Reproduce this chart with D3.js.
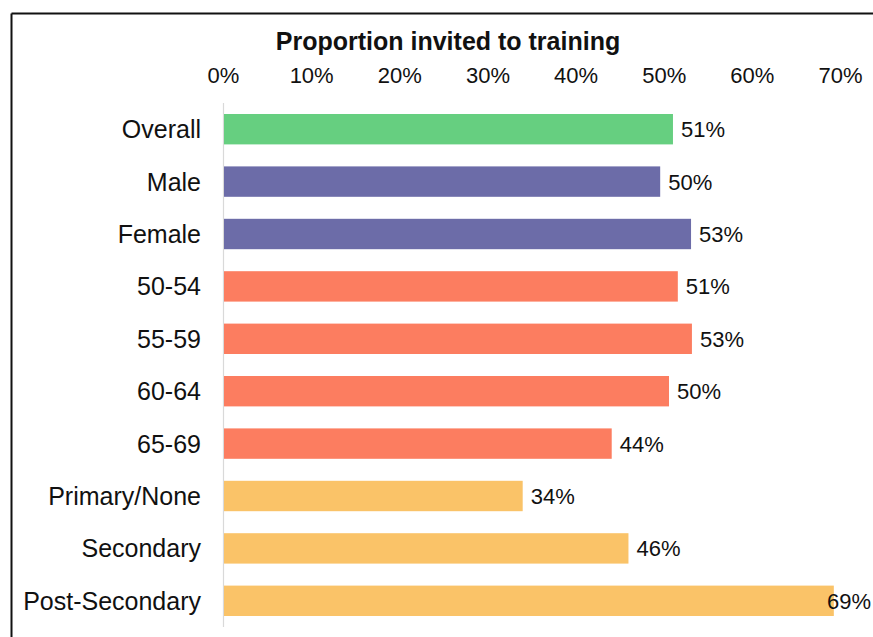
<!DOCTYPE html>
<html>
<head>
<meta charset="utf-8">
<script src="https://cdn.jsdelivr.net/npm/d3@7"></script>
<style>
  body { margin: 0; background: #fff; }
  svg text { font-family: "Liberation Sans", Arial, sans-serif; fill: #111; }
</style>
</head>
<body>
<svg id="chart" width="873" height="637"></svg>
<script>
// chart data
const categories = ["Overall", "Male", "Female", "50-54", "55-59", "60-64", "65-69", "Primary/None", "Secondary", "Post-Secondary"];
const values = [51.05, 49.6, 53.1, 51.6, 53.2, 50.6, 44.1, 34.0, 46.0, 69.3];
const valueLabels = ["51%", "50%", "53%", "51%", "53%", "50%", "44%", "34%", "46%", "69%"];
const groups = ["all", "sex", "sex", "age", "age", "age", "age", "edu", "edu", "edu"];
const tickValues = [0, 10, 20, 30, 40, 50, 60, 70];

const colors = { all: "#66cf80", sex: "#6c6ca8", age: "#fc7d60", edu: "#fac368" };

const svg = d3.select("#chart");

// frame (top and left edges visible)
svg.append("line").attr("x1", 11.5).attr("x2", 873).attr("y1", 13.5).attr("y2", 13.5)
  .attr("stroke", "#111").attr("stroke-width", 2);
svg.append("line").attr("x1", 11.5).attr("x2", 11.5).attr("y1", 13.5).attr("y2", 637)
  .attr("stroke", "#111").attr("stroke-width", 2);

const x = d3.scaleLinear().domain([0, 70]).range([223, 840]);
const y = d3.scaleBand().domain(categories).range([103, 627]).paddingInner(0.42).paddingOuter(0.21);

// title
svg.append("text")
  .attr("x", 448).attr("y", 50)
  .attr("text-anchor", "middle")
  .style("font-size", "25px").style("font-weight", "bold")
  .text("Proportion invited to training");

// top axis
const xAxis = svg.append("g")
  .attr("transform", "translate(0,83)")
  .call(d3.axisTop(x).tickValues(tickValues).tickFormat(d => d + "%").tickSize(0).tickPadding(0));
xAxis.select(".domain").remove();
xAxis.selectAll("text").style("font-size", "22px").attr("fill", "#111");

// vertical axis line
svg.append("line")
  .attr("x1", x(0) + 0.5).attr("x2", x(0) + 0.5)
  .attr("y1", 103).attr("y2", 627)
  .attr("stroke", "#d9d9d9").attr("stroke-width", 1.2);

// category labels
svg.append("g").selectAll("text")
  .data(categories)
  .enter()
  .append("text")
  .attr("x", 201)
  .attr("y", d => y(d) + y.bandwidth() / 2)
  .attr("dy", "0.36em")
  .attr("text-anchor", "end")
  .style("font-size", "25px")
  .text(d => d);

// bars
svg.append("g").selectAll("rect")
  .data(values)
  .enter()
  .append("rect")
  .attr("x", x(0) + 1)
  .attr("y", (d, i) => y(categories[i]))
  .attr("width", d => x(d) - x(0) - 1)
  .attr("height", y.bandwidth())
  .attr("fill", (d, i) => colors[groups[i]]);

// value labels
svg.append("g").selectAll("text")
  .data(values)
  .enter()
  .append("text")
  .attr("x", d => Math.min(x(d) + 8, 827))
  .attr("y", (d, i) => y(categories[i]) + y.bandwidth() / 2)
  .attr("dy", "0.36em")
  .style("font-size", "22px")
  .text((d, i) => valueLabels[i]);
</script>
</body>
</html>
